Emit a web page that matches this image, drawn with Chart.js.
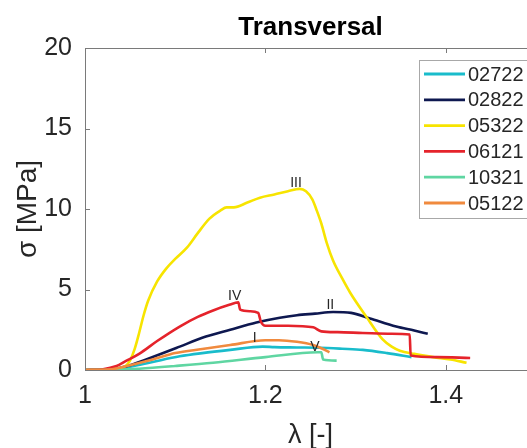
<!DOCTYPE html>
<html>
<head>
<meta charset="utf-8">
<script src="https://cdn.jsdelivr.net/npm/chart.js@4/dist/chart.umd.min.js"></script>
<style>
html,body{margin:0;padding:0;overflow:hidden;background:#fff;}
#c{display:block;}
</style>
</head>
<body>
<canvas id="c" width="545" height="448"></canvas>
<script>
// ---- data ----
const seriesNames = ['02722','02822','05322','06121','10321','05122'];
const seriesColors = ['#19bccb','#0e1850','#f7e400','#e5232b','#5fd6a2','#f08a3e'];

const lam02722 = [1.00,1.03,1.05,1.075,1.105,1.13,1.161,1.197,1.21,1.235,1.26,1.285,1.308,1.335,1.362];
const sig02722 = [0.00,0.03,0.20,0.50,0.85,1.05,1.25,1.45,1.42,1.40,1.38,1.32,1.25,1.05,0.80];

const lam02822 = [1.00,1.03,1.05,1.07,1.105,1.13,1.161,1.19,1.216,1.235,1.255,1.275,1.295,1.316,1.345,1.365,1.38];
const sig02822 = [0.00,0.05,0.30,0.70,1.45,2.00,2.50,2.95,3.25,3.40,3.50,3.60,3.55,3.20,2.70,2.45,2.25];

const lam05322 = [1.00,1.02,1.035,1.045,1.05,1.055,1.06,1.065,1.07,1.08,1.09,1.10,1.113,1.125,1.138,1.15,1.157,1.165,1.18,1.194,1.21,1.225,1.238,1.245,1.252,1.257,1.262,1.268,1.275,1.285,1.294,1.312,1.33,1.34,1.349,1.365,1.386,1.405,1.423];
const sig05322 = [0.00,0.02,0.08,0.25,0.60,1.30,2.30,3.40,4.30,5.50,6.30,6.90,7.60,8.50,9.40,9.90,10.10,10.10,10.40,10.70,10.90,11.10,11.25,11.10,10.60,9.90,9.10,7.90,6.80,5.70,4.80,3.30,1.90,1.45,1.20,1.00,0.80,0.65,0.45];

const lam06121 = [1.00,1.02,1.035,1.045,1.06,1.08,1.105,1.125,1.142,1.16,1.17,1.172,1.183,1.192,1.195,1.20,1.225,1.253,1.262,1.28,1.308,1.34,1.360,1.361,1.39,1.427];
const sig06121 = [0.00,0.05,0.25,0.55,1.00,1.80,2.70,3.30,3.70,4.05,4.20,3.75,3.65,3.55,3.00,2.75,2.75,2.65,2.40,2.35,2.30,2.25,2.20,0.90,0.80,0.75];

const lam10321 = [1.00,1.04,1.06,1.10,1.142,1.20,1.258,1.262,1.264,1.279];
const sig10321 = [0.00,0.02,0.08,0.25,0.45,0.80,1.10,1.10,0.65,0.58];

const lam05122 = [1.00,1.03,1.05,1.075,1.10,1.13,1.161,1.20,1.215,1.235,1.253,1.262,1.271];
const sig05122 = [0.00,0.05,0.30,0.65,1.05,1.30,1.55,1.85,1.85,1.75,1.55,1.35,1.10];

const seriesLam = [lam02722,lam02822,lam05322,lam06121,lam10321,lam05122];
const seriesSig = [sig02722,sig02822,sig05322,sig06121,sig10321,sig05122];

const markNames = ['I','II','III','IV','V'];
const markLam = [1.188,1.272,1.234,1.166,1.255];
const markSig = [1.95,4.0,11.6,4.6,1.43];

const xTicks = [1,1.2,1.4];
const yTicks = [0,5,10,15,20];

const titleText = 'Transversal';
const xTitle = 'λ [-]';
const yTitle = 'σ [MPa]';

// ---- chart ----
const FONT = "'Liberation Sans', Arial, sans-serif";
const TXT = '#262626';
const AXC = '#7a7a7a';

const datasets = seriesNames.map((n,i)=>({
  label:n,
  data: seriesLam[i].map((x,k)=>({x:x,y:seriesSig[i][k]})),
  borderColor: seriesColors[i],
  backgroundColor: seriesColors[i],
  borderWidth: 2.6,
  pointRadius: 0,
  showLine: true,
  tension: 0.25,
  cubicInterpolationMode: 'monotone',
  order: seriesNames.length - i
}));

const decor = {
  id:'decor',
  afterDatasetsDraw(chart){
    const ctx = chart.ctx, a = chart.chartArea;
    const xs = chart.scales.x, ys = chart.scales.y;
    ctx.save();
    // box
    ctx.strokeStyle = AXC; ctx.lineWidth = 1;
    ctx.strokeRect(Math.round(a.left)+0.5, Math.round(a.top)+0.5, Math.round(a.right-a.left), Math.round(a.bottom-a.top));
    // inside ticks
    ctx.beginPath();
    xTicks.forEach(v=>{
      const px = Math.round(xs.getPixelForValue(v))+0.5;
      ctx.moveTo(px,a.bottom); ctx.lineTo(px,a.bottom-5);
      ctx.moveTo(px,a.top); ctx.lineTo(px,a.top+5);
    });
    yTicks.forEach(v=>{
      const py = Math.round(ys.getPixelForValue(v))+0.5;
      ctx.moveTo(a.left,py); ctx.lineTo(a.left+5,py);
      ctx.moveTo(a.right,py); ctx.lineTo(a.right-5,py);
    });
    ctx.stroke();
    // mark labels
    ctx.fillStyle = TXT; ctx.font = '14px '+FONT;
    ctx.textAlign='center'; ctx.textBaseline='middle';
    markNames.forEach((m,i)=>{
      ctx.fillText(m, xs.getPixelForValue(markLam[i]), ys.getPixelForValue(markSig[i]));
    });
    // title
    ctx.fillStyle = '#000'; ctx.font = 'bold 26px '+FONT;
    ctx.fillText(titleText, (a.left+a.right)/2, 28);
    // legend
    const lx = 419, ly = 60, lw = 130, lh = 158, step = 25.8;
    ctx.fillStyle = '#fff'; ctx.fillRect(lx,ly,lw,lh);
    ctx.strokeStyle = '#a8a8a8'; ctx.lineWidth = 1;
    ctx.strokeRect(lx+0.5,ly+0.5,lw,lh);
    ctx.font = '20px '+FONT; ctx.textAlign='left'; ctx.textBaseline='middle';
    chart.data.datasets.forEach((d,i)=>{
      const y = 74 + i*step;
      ctx.strokeStyle = d.borderColor; ctx.lineWidth = 2.8;
      ctx.beginPath(); ctx.moveTo(424,y); ctx.lineTo(465,y); ctx.stroke();
      ctx.fillStyle = TXT; ctx.fillText(d.label, 468, y+1);
    });
    ctx.restore();
  }
};

new Chart(document.getElementById('c'), {
  type:'scatter',
  data:{datasets},
  options:{
    responsive:false,
    animation:false,
    layout:{padding:{top:48,right:9,left:0,bottom:0}},
    plugins:{legend:{display:false},tooltip:{enabled:false},title:{display:false}},
    scales:{
      x:{
        type:'linear', min:1, max:1.5,
        afterBuildTicks(s){ s.ticks = xTicks.map(v=>({value:v})); },
        afterFit(s){ s.height = 78; },
        grid:{display:false, drawTicks:false},
        border:{display:false},
        ticks:{color:TXT, font:{family:FONT,size:25}, padding:11, callback:v=>String(v)},
        title:{display:true, text:xTitle, color:TXT, font:{family:FONT,size:27,lineHeight:1}, padding:{top:0,bottom:-1}}
      },
      y:{
        type:'linear', min:0, max:20,
        afterBuildTicks(s){ s.ticks = yTicks.map(v=>({value:v})); },
        afterFit(s){ s.width = 85; },
        grid:{display:false, drawTicks:false},
        border:{display:false},
        ticks:{color:TXT, font:{family:FONT,size:25}, padding:13},
        title:{display:true, text:yTitle, color:TXT, font:{family:FONT,size:28,lineHeight:1}, padding:{top:14,bottom:0}}
      }
    }
  },
  plugins:[decor]
});
</script>
</body>
</html>
